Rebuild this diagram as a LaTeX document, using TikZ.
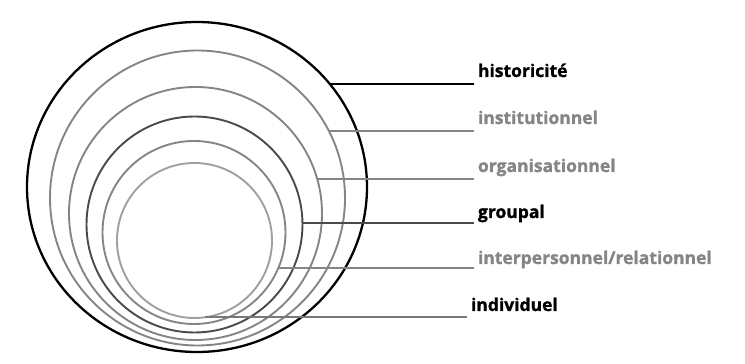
\documentclass[tikz,border=0pt]{standalone}
\usepackage{fontspec}
\setmainfont{Open Sans}[BoldFont={Open Sans Bold},BoldFeatures={FakeBold=1.3}]
\usetikzlibrary{shapes.geometric}
\definecolor{ringgray}{HTML}{858585}
\definecolor{ringdark}{HTML}{4A4A4A}
\definecolor{ringlight}{HTML}{A0A0A0}
\definecolor{labgray}{HTML}{858585}
\tikzset{
  ring/.style={circle,draw,inner sep=0pt,outer sep=0pt,line width=1.9pt},
  lab/.style={anchor=base west,inner sep=3pt,font=\fontsize{17.5}{20}\selectfont\bfseries}
}
\begin{document}
\begin{tikzpicture}[x=1pt,y=1pt,line width=2pt]
\useasboundingbox (0,0) rectangle (745,364);
\node[ellipse,draw,inner sep=0pt,outer sep=0pt,line width=2.3pt,minimum width=340pt,minimum height=330pt] (c1) at (197,177) {};
\node[ring,ringgray,minimum size=295pt] (c2) at (197.5,166) {};
\node[ring,ringgray,minimum size=253pt] (c3) at (195.5,150.5) {};
\node[ring,ringdark,minimum size=216pt] (c4) at (194.5,139.5) {};
\node[ring,ringgray,minimum size=183pt] (c5) at (194,131.5) {};
\node[ring,ringlight,minimum size=155pt] (c6) at (194.5,123.5) {};
\node[lab] (l1) at (474,287) {historicité};
\node[lab,labgray] (l2) at (474,240) {institutionnel};
\node[lab,labgray] (l3) at (474,192) {organisationnel};
\node[lab] (l4) at (474,146) {groupal};
\node[lab,labgray] (l5) at (474,100) {interpersonnel/relationnel};
\node[lab] (l6) at (467,53) {individuel};
\draw (c1.38.7) -- (c1.38.7 -| l1.west);
\draw[ringgray] (c2.27.9) -- (c2.27.9 -| l2.west);
\draw[ringgray] (c3.16.7) -- (c3.16.7 -| l3.west);
\draw[ringdark] (c4.1) -- (c4.1 -| l4.west);
\draw[ringgray] (c5.-23.5) -- (c5.-23.5 -| l5.west);
\draw[ringgray!90!black] (c6.-82) -- (c6.-82 -| l6.west);
\end{tikzpicture}
\end{document}
